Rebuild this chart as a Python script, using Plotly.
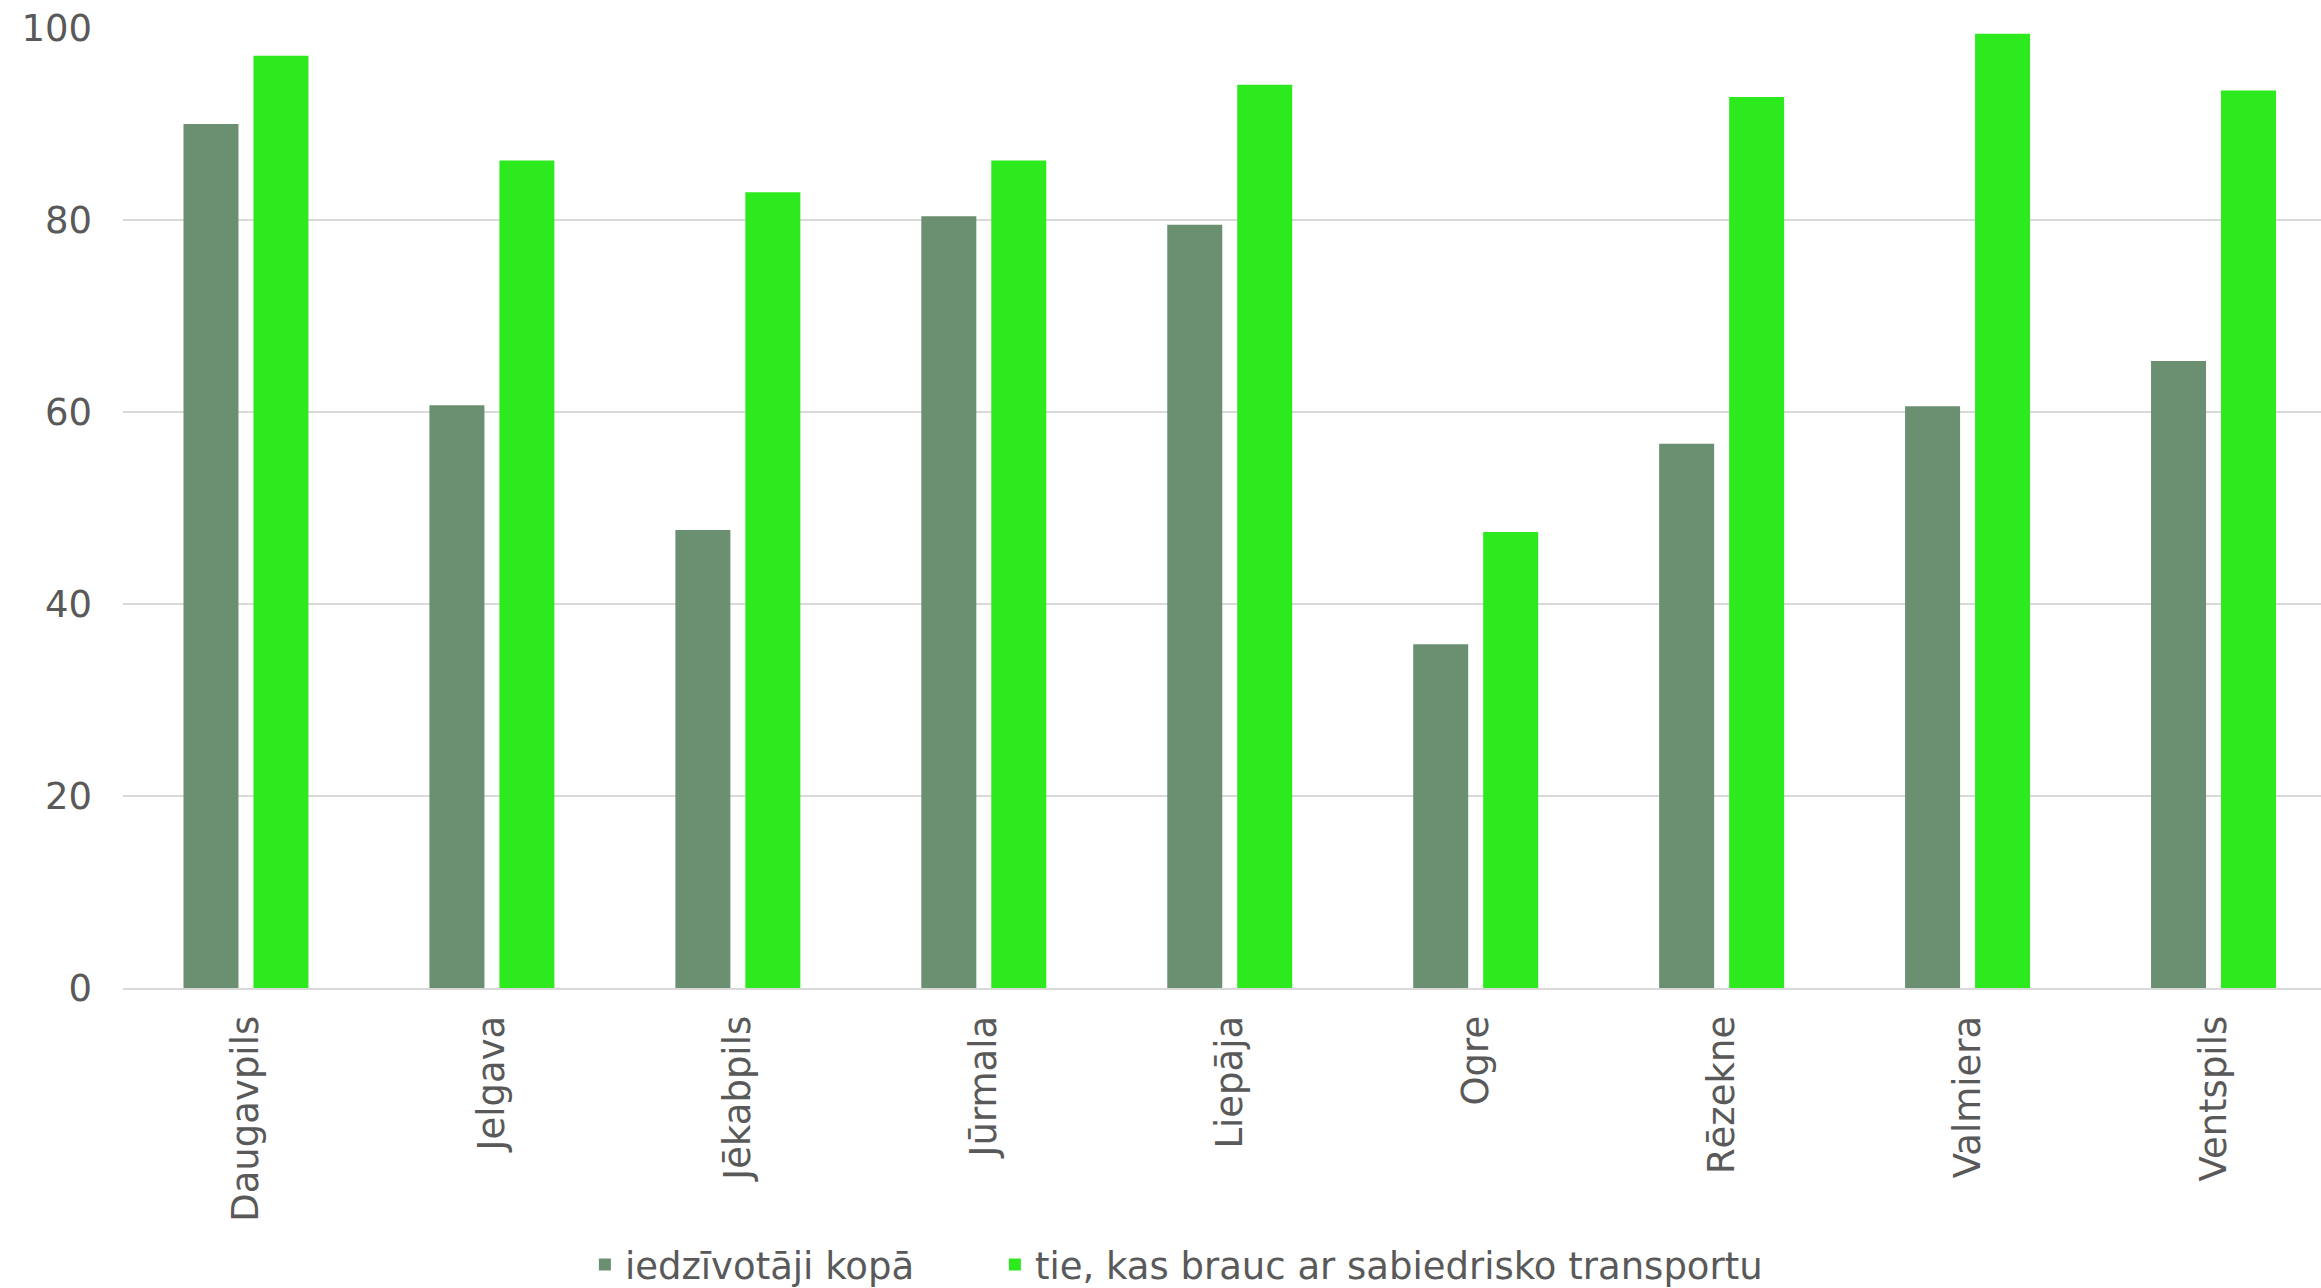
import plotly.graph_objects as go

categories = ["Daugavpils", "Jelgava", "Jēkabpils", "Jūrmala", "Liepāja",
              "Ogre", "Rēzekne", "Valmiera", "Ventspils"]
residents_total = [90.0, 60.7, 47.7, 80.4, 79.5, 35.8, 56.7, 60.6, 65.3]
public_transport_users = [97.1, 86.2, 82.9, 86.2, 94.1, 47.5, 92.8, 99.4, 93.5]
y_ticks = [0, 20, 40, 60, 80, 100]

series_names = ["iedzīvotāji kopā", "tie, kas brauc ar sabiedrisko transportu"]
colors = ["#6B8F71", "#2DEA1E"]

FONT = "DejaVu Sans"
TXT = "#595959"
GRID = "#D9D9D9"
FS = 37

fig = go.Figure()
fig.add_trace(go.Bar(x=categories, y=residents_total, name=series_names[0],
                     legendwidth=365,
                     marker=dict(color=colors[0], line=dict(width=0))))
fig.add_trace(go.Bar(x=categories, y=public_transport_users, name=series_names[1],
                     marker=dict(color=colors[1], line=dict(width=0))))

fig.update_layout(
    width=2321, height=1288,
    margin=dict(l=122.5, r=0, t=28, b=300, pad=0),
    paper_bgcolor="white", plot_bgcolor="white",
    barmode="group", bargap=0.431, bargroupgap=0.214,
    font=dict(family=FONT, size=FS, color=TXT),
    showlegend=True,
    legend=dict(orientation="h", xref="container", yref="container",
                x=0.252, xanchor="left", y=0.0179, yanchor="middle",
                font=dict(family=FONT, size=FS, color=TXT),
                bgcolor="rgba(0,0,0,0)", traceorder="normal"),
    xaxis=dict(range=[-0.5, 8.437], tickangle=-90, showgrid=False,
               showline=True, linecolor=GRID, linewidth=2,
               ticks="", ticklabelstandoff=11,
               tickfont=dict(family=FONT, size=FS, color=TXT)),
    yaxis=dict(range=[0, 100], tickvals=y_ticks, showgrid=True,
               gridcolor=GRID, gridwidth=2, zeroline=False,
               showline=False, ticks="", ticklabelstandoff=30,
               tickfont=dict(family=FONT, size=FS, color=TXT)),
)

fig.write_html("out.html", config={"displayModeBar": False},
               post_script="document.body.style.margin='0';document.body.style.overflow='hidden';")
